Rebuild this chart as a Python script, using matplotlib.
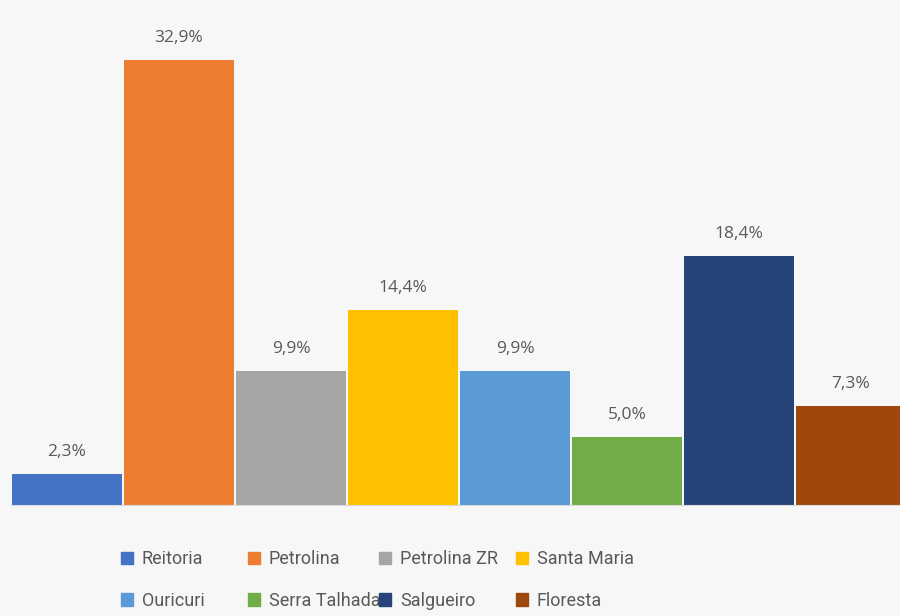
import matplotlib.pyplot as plt
from matplotlib.patches import Patch

campus = ["Reitoria", "Petrolina", "Petrolina ZR", "Santa Maria",
          "Ouricuri", "Serra Talhada", "Salgueiro", "Floresta"]
valores = [2.3, 32.9, 9.9, 14.4, 9.9, 5.0, 18.4, 7.3]
cores = ["#4472C4", "#ED7D31", "#A5A5A5", "#FFC000",
         "#5B9BD5", "#70AD47", "#264478", "#9E480E"]

plt.rcParams['font.family'] = ['Open Sans', 'DejaVu Sans']

fig = plt.figure(figsize=(9, 6.16), dpi=100)
fig.patch.set_facecolor("#f7f7f7")
ax = fig.add_axes([11 / 900, 0.180, 896 / 900, 0.769])
ax.set_facecolor("#f7f7f7")

x = range(len(campus))
bars = ax.bar(x, valores, width=0.975, color=cores)
for b, v in zip(bars, valores):
    ax.text(b.get_x() + b.get_width() / 2, v + 1.05, f"{v:.1f}%".replace(".", ","),
            ha="center", va="bottom", fontsize=12.5, color="#595959")

ax.set_xlim(-0.5, 7.5)
ax.set_ylim(0, 35)
ax.set_xticks([])
ax.set_yticks([])
for s in ["top", "right", "left"]:
    ax.spines[s].set_visible(False)
ax.spines["bottom"].set_color("#d9d9d9")

# legenda: 4 colunas de largura fixa, 2 linhas
col_x = [121, 248, 379, 516]
for j in range(4):
    hs = [Patch(color=cores[j], label=campus[j]),
          Patch(color=cores[j + 4], label=campus[j + 4])]
    fig.legend(handles=hs, loc="center left",
               bbox_to_anchor=(col_x[j] / 900, 0.0584),
               frameon=False, handlelength=0.66, handleheight=0.66,
               handletextpad=0.5, labelspacing=1.3, borderpad=0,
               borderaxespad=0, labelcolor="#595959",
               prop={"family": ["Roboto", "DejaVu Sans"], "size": 13})

plt.savefig("out.png", dpi=100, facecolor=fig.get_facecolor())
